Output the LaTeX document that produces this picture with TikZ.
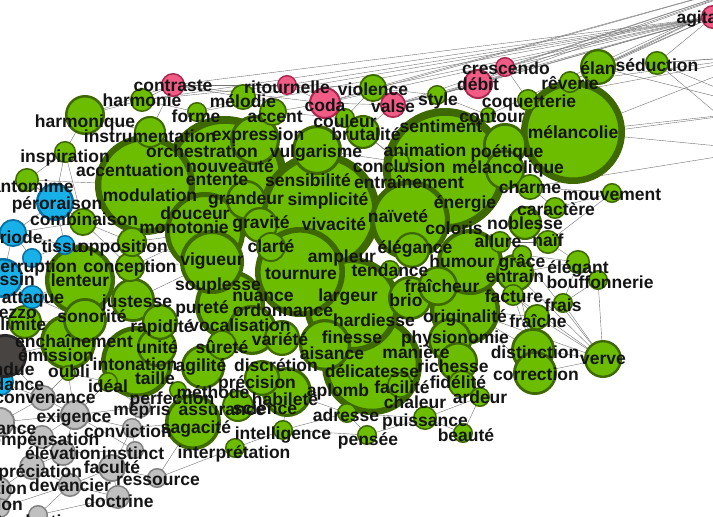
\documentclass[tikz,border=0pt]{standalone}
\usepackage{fontspec}
\setmainfont{Liberation Sans}
\definecolor{gf}{RGB}{108,188,0}
\definecolor{gb}{RGB}{62,104,0}
\definecolor{pf}{RGB}{240,92,134}
\definecolor{pb}{RGB}{170,40,80}
\definecolor{bf}{RGB}{24,176,232}
\definecolor{bb}{RGB}{10,110,160}
\definecolor{grf}{RGB}{192,192,192}
\definecolor{grb}{RGB}{130,130,130}
\definecolor{dkf}{RGB}{72,68,66}
\definecolor{dkb}{RGB}{40,40,40}
\pgfdeclarelayer{bg}
\pgfsetlayers{bg,main}
\newcommand\cnode[5]{\pgfmathsetmacro\cnlw{max(1.5,0.125*#4)}\pgfmathsetmacro\cnms{2*#4-\cnlw}\node[#5,minimum size=\cnms pt,line width=\cnlw pt] (#1) at (#2,#3) {};}
\newcommand\tlab[4]{\node[lbl] (t#1) at (#2,#3+5) {#4};}
\newcommand\ed[2]{\draw[edge] (#1) -- (#2);}
\begin{document}
\begin{tikzpicture}[x=1pt,y=-1pt,
 nd/.style={circle,inner sep=0pt,outer sep=0pt},
 G/.style={nd,fill=gf,draw=gb},
 P/.style={nd,fill=pf,draw=pb},
 B/.style={nd,fill=bf,draw=bb},
 Y/.style={nd,fill=grf,draw=grb},
 D/.style={nd,fill=dkf,draw=dkb},
 lbl/.style={font=\bfseries\fontsize{17.5}{17.5}\selectfont,inner sep=0pt,anchor=base,text=black!92},
 edge/.style={draw=black!55,line width=0.4pt}]
\useasboundingbox (0,0) rectangle (713,517);
\clip (0,0) rectangle (713,517);
% big green
\cnode{energie}{445}{170}{62}{G}
\cnode{orchestration}{225}{178}{62}{G}
\cnode{simplicite}{320}{212}{60}{G}
\cnode{melancolie}{573}{132}{52}{G}
\cnode{accentuation}{145}{185}{50}{G}
\cnode{delicatesse}{372}{365}{50}{G}
\cnode{largeur}{352}{305}{48}{G}
\cnode{tournure}{300}{272}{45}{G}
\cnode{douceur}{205}{232}{40}{G}
\cnode{naivete}{410}{220}{40}{G}
\cnode{intonation}{137}{362}{36}{G}
\cnode{lenteur}{80}{280}{35}{G}
\cnode{originalite}{465}{310}{35}{G}
\cnode{souplesse}{230}{305}{35}{G}
\cnode{humour}{470}{262}{33}{G}
\cnode{vigueur}{212}{262}{32}{G}
\cnode{enchainement}{68}{342}{28}{G}
\cnode{sagacite}{193}{422}{28}{G}
\cnode{aisance}{325}{345}{26}{G}
\cnode{habilete}{287}{392}{25}{G}
\cnode{vocalisation}{252}{330}{25}{G}
\cnode{vulgarisme}{317}{150}{25}{G}
\cnode{expression}{255}{140}{25}{G}
\cnode{brio}{410}{298}{22}{G}
\cnode{physionomie}{450}{340}{22}{G}
\cnode{richesse}{458}{362}{20}{G}
\cnode{fraicheur}{438}{286}{20}{G}
\cnode{poetique}{505}{145}{22}{G}
\cnode{melancolique}{505}{170}{20}{G}
\cnode{distinction}{533}{350}{22}{G}
\cnode{correction}{535}{373}{22}{G}
\cnode{agilite}{203}{367}{22}{G}
\cnode{justesse}{133}{300}{22}{G}
\cnode{sonorite}{85}{320}{22}{G}
\cnode{unite}{157}{347}{20}{G}
\cnode{grandeur}{246}{200}{20}{G}
\cnode{harmonique}{85}{115}{20}{G}
\cnode{verve}{603}{359}{19}{G}
\cnode{entrain}{515}{273}{19}{G}
\cnode{elegance}{412}{250}{18}{G}
\cnode{rapidite}{160}{322}{18}{G}
\cnode{variete}{282}{338}{18}{G}
\cnode{precision}{262}{378}{18}{G}
\cnode{gravite}{260}{225}{18}{G}
\cnode{elan}{598}{67}{18}{G}
\cnode{noblesse}{525}{223}{17}{G}
\cnode{brutalite}{363}{132}{17}{G}
\cnode{delimite}{25}{322}{17}{G}
\cnode{assurance}{238}{406}{16}{G}
\cnode{instrumentation}{150}{132}{16}{G}
\cnode{fidelite}{462}{384}{14}{G}
\cnode{surete}{222}{345}{15}{G}
\cnode{conception}{130}{267}{15}{G}
\cnode{opposition}{132}{242}{15}{G}
\cnode{clarte}{271}{247}{15}{G}
\cnode{accent}{273}{112}{14}{G}
\cnode{violence}{373}{88}{14}{G}
\cnode{combinaison}{83}{222}{14}{G}
\cnode{melodie}{243}{97}{13}{G}
\cnode{charme}{530}{187}{13}{G}
\cnode{fraiche}{537}{317}{13}{G}
\cnode{facilite}{400}{385}{13}{G}
\cnode{pantomime}{27}{180}{12}{G}
\cnode{puissance}{425}{418}{12}{G}
\cnode{naif}{548}{242}{12}{G}
\cnode{elegant}{578}{262}{12}{G}
\cnode{harmonie}{142}{100}{12}{G}
\cnode{seduction}{657}{63}{12}{G}
\cnode{inspiration}{65}{152}{11}{G}
\cnode{coquetterie}{528}{100}{11}{G}
\cnode{reverie}{570}{82}{11}{G}
\cnode{caractere}{555}{208}{11}{G}
\cnode{allure}{500}{242}{11}{G}
\cnode{facture}{513}{295}{11}{G}
\cnode{forme}{197}{112}{10}{G}
\cnode{couleur}{345}{118}{10}{G}
\cnode{style}{437}{95}{10}{G}
\cnode{mouvement}{612}{193}{10}{G}
\cnode{grace}{522}{255}{10}{G}
\cnode{bouffonnerie}{598}{280}{10}{G}
\cnode{frais}{563}{303}{10}{G}
\cnode{ardeur}{480}{397}{10}{G}
\cnode{beaute}{463}{433}{10}{G}
\cnode{pensee}{367}{435}{10}{G}
\cnode{adresse}{347}{413}{10}{G}
\cnode{intelligence}{283}{430}{10}{G}
\cnode{interpretation}{235}{448}{10}{G}
\cnode{ideal}{108}{382}{10}{G}
\cnode{methode}{178}{390}{9}{G}
\cnode{conclusion}{400}{162}{10}{G}
\cnode{tendance}{390}{270}{10}{G}
\cnode{oubli}{68}{373}{8}{G}
\cnode{contour}{488}{115}{8}{G}
% pink
\cnode{contraste}{173}{85}{12}{P}
\cnode{ritournelle}{287}{85}{10}{P}
\cnode{coda}{325}{103}{16}{P}
\cnode{valse}{393}{105}{13}{P}
\cnode{debit}{478}{84}{15}{P}
\cnode{crescendo}{505}{67}{10}{P}
\cnode{agitation}{713}{17}{12}{P}
% blue
\cnode{peroraison}{55}{202}{19}{B}
\cnode{periode}{13}{233}{14}{B}
\cnode{tissu}{65}{245}{10}{B}
\cnode{dessin}{3}{278}{20}{B}
\cnode{interruption}{32}{258}{10}{B}
\cnode{attaque}{32}{297}{12}{B}
\cnode{abondance}{0}{382}{14}{B}
% dark
\cnode{etendue}{5}{356}{22}{D}
% grey
\cnode{convenance}{43}{398}{13}{Y}
\cnode{exigence}{75}{415}{15}{Y}
\cnode{constance}{0}{422}{15}{Y}
\cnode{compensation}{42}{437}{12}{Y}
\cnode{elevation}{63}{453}{13}{Y}
\cnode{instinct}{135}{450}{9}{Y}
\cnode{appreciation}{32}{467}{13}{Y}
\cnode{faculte}{112}{468}{14}{Y}
\cnode{ressource}{157}{478}{10}{Y}
\cnode{devancier}{70}{485}{12}{Y}
\cnode{direction}{-2}{490}{14}{Y}
\cnode{doctrine}{118}{497}{12}{Y}
\cnode{etalon}{0}{508}{10}{Y}
\cnode{traduction}{38}{515}{10}{Y}
\cnode{mepris}{140}{407}{11}{Y}
\cnode{conviction}{132}{428}{10}{Y}
% off-canvas ends
\coordinate (ne1) at (800,-30);
\coordinate (ne2) at (770,55);
\coordinate (e1) at (770,110);
\coordinate (e2) at (760,150);
% edges
\begin{pgfonlayer}{bg}
\clip (0,0) rectangle (713,517);
\foreach \a in {contraste,harmonie,ritournelle,coda,violence,valse,debit,crescendo,style,melodie,elan,seduction,coquetterie,forme}{\ed{agitation}{\a}}
\foreach \a in {crescendo,debit,contour,style,reverie,elan,coda,valse,violence}{\ed{ne1}{\a}}
\foreach \a in {seduction,elan,reverie,melancolie,coquetterie}{\ed{ne2}{\a}}
\foreach \a in {seduction,melancolie,poetique,elan}{\ed{e1}{\a}}
\foreach \a in {melancolie,charme,seduction}{\ed{e2}{\a}}
\ed{harmonique}{harmonie}\ed{harmonique}{instrumentation}\ed{inspiration}{harmonique}
\ed{inspiration}{pantomime}\ed{inspiration}{peroraison}\ed{harmonie}{contraste}
\ed{contraste}{ritournelle}\ed{contraste}{melodie}\ed{harmonie}{forme}\ed{forme}{melodie}
\ed{contraste}{coda}\ed{ritournelle}{coda}\ed{ritournelle}{violence}\ed{coda}{violence}
\ed{coda}{valse}\ed{violence}{valse}\ed{violence}{style}\ed{valse}{style}\ed{valse}{debit}
\ed{style}{debit}\ed{debit}{crescendo}\ed{crescendo}{coquetterie}\ed{contour}{style}
\ed{couleur}{coda}\ed{couleur}{violence}\ed{brutalite}{valse}\ed{accent}{coda}\ed{accent}{couleur}
\ed{couleur}{conclusion}\ed{brutalite}{conclusion}\ed{couleur}{brutalite}\ed{vulgarisme}{conclusion}
\ed{harmonie}{ritournelle}\ed{harmonique}{contraste}\ed{instrumentation}{contraste}
\ed{pantomime}{peroraison}\ed{peroraison}{combinaison}\ed{pantomime}{combinaison}
\ed{periode}{combinaison}\ed{periode}{tissu}\ed{periode}{peroraison}\ed{tissu}{opposition}
\ed{tissu}{interruption}\ed{combinaison}{opposition}\ed{interruption}{lenteur}
\ed{dessin}{interruption}\ed{dessin}{attaque}\ed{attaque}{lenteur}\ed{attaque}{sonorite}
\ed{delimite}{sonorite}\ed{periode}{dessin}\ed{pantomime}{accentuation}\ed{peroraison}{tissu}
\ed{combinaison}{conception}\ed{opposition}{douceur}\ed{conception}{douceur}\ed{opposition}{vigueur}
\ed{conception}{vigueur}\ed{justesse}{vigueur}\ed{inspiration}{combinaison}\ed{periode}{interruption}
\ed{enchainement}{etendue}\ed{oubli}{exigence}\ed{oubli}{convenance}\ed{ideal}{exigence}
\ed{ideal}{mepris}\ed{etendue}{convenance}\ed{abondance}{convenance}\ed{convenance}{exigence}
\ed{convenance}{constance}\ed{constance}{compensation}\ed{compensation}{exigence}
\ed{compensation}{elevation}\ed{elevation}{appreciation}\ed{elevation}{instinct}
\ed{elevation}{devancier}\ed{instinct}{faculte}\ed{instinct}{conviction}\ed{faculte}{devancier}
\ed{faculte}{ressource}\ed{faculte}{doctrine}\ed{devancier}{appreciation}\ed{devancier}{doctrine}
\ed{direction}{appreciation}\ed{etalon}{devancier}\ed{traduction}{devancier}\ed{traduction}{doctrine}
\ed{exigence}{mepris}\ed{mepris}{conviction}\ed{conviction}{faculte}\ed{conviction}{sagacite}
\ed{ressource}{interpretation}\ed{exigence}{instinct}\ed{exigence}{elevation}\ed{ideal}{intonation}
\ed{constance}{exigence}\ed{oubli}{ideal}\ed{exigence}{conviction}\ed{ressource}{sagacite}
\ed{interpretation}{intelligence}\ed{intelligence}{adresse}\ed{intelligence}{pensee}
\ed{pensee}{puissance}\ed{adresse}{puissance}\ed{puissance}{beaute}\ed{beaute}{ardeur}
\ed{pensee}{adresse}\ed{puissance}{ardeur}\ed{habilete}{adresse}\ed{habilete}{intelligence}
\ed{verve}{distinction}\ed{verve}{correction}\ed{verve}{fraiche}\ed{verve}{frais}
\ed{verve}{bouffonnerie}\ed{verve}{facture}\ed{verve}{entrain}\ed{verve}{originalite}
\ed{verve}{grace}\ed{distinction}{fraiche}\ed{frais}{bouffonnerie}\ed{frais}{fraiche}
\ed{bouffonnerie}{elegant}\ed{elegant}{entrain}\ed{elegant}{naif}\ed{naif}{noblesse}
\ed{caractere}{mouvement}\ed{mouvement}{charme}\ed{caractere}{charme}\ed{allure}{naif}
\ed{grace}{elegant}\ed{facture}{frais}\ed{fraiche}{facture}\ed{fraiche}{originalite}
\ed{distinction}{originalite}\ed{correction}{originalite}\ed{mouvement}{naif}\ed{elegant}{frais}
\ed{facture}{distinction}\ed{entrain}{distinction}
\end{pgfonlayer}
% labels
\tlab{agitation}{713}{18}{agitation}
\tlab{crescendo}{506}{69}{crescendo}
\tlab{debit}{478}{85}{débit}
\tlab{elan}{598}{69}{élan}
\tlab{seduction}{657}{66}{séduction}
\tlab{reverie}{570}{84}{rêverie}
\tlab{coquetterie}{529}{102}{coquetterie}
\tlab{contour}{492}{117}{contour}
\tlab{melancolie}{573}{133}{mélancolie}
\tlab{poetique}{507}{152}{poétique}
\tlab{melancolique}{508}{168}{mélancolique}
\tlab{style}{438}{100}{style}
\tlab{valse}{393}{107}{valse}
\tlab{violence}{373}{90}{violence}
\tlab{coda}{325}{106}{coda}
\tlab{ritournelle}{287}{88}{ritournelle}
\tlab{contraste}{173}{86}{contraste}
\tlab{harmonie}{142}{101}{harmonie}
\tlab{harmonique}{85}{122}{harmonique}
\tlab{forme}{196}{117}{forme}
\tlab{melodie}{243}{102}{mélodie}
\tlab{accent}{275}{117}{accent}
\tlab{couleur}{345}{122}{couleur}
\tlab{expression}{258}{135}{expression}
\tlab{instrumentation}{150}{137}{instrumentation}
\tlab{inspiration}{65}{157}{inspiration}
\tlab{orchestration}{202}{152}{orchestration}
\tlab{brutalite}{366}{135}{brutalité}
\tlab{vulgarisme}{316}{152}{vulgarisme}
\tlab{sentiment}{441}{127}{sentiment}
\tlab{animation}{425}{151}{animation}
\tlab{conclusion}{399}{167}{conclusion}
\tlab{entrainement}{409}{183}{entraînement}
\tlab{sensibilite}{308}{181}{sensibilité}
\tlab{simplicite}{328}{200}{simplicité}
\tlab{vivacite}{334}{225}{vivacité}
\tlab{naivete}{398}{217}{naïveté}
\tlab{energie}{465}{203}{énergie}
\tlab{coloris}{454}{229}{coloris}
\tlab{elegance}{415}{248}{élégance}
\tlab{ampleur}{342}{257}{ampleur}
\tlab{tendance}{390}{271}{tendance}
\tlab{tournure}{301}{274}{tournure}
\tlab{clarte}{271}{247}{clarté}
\tlab{gravite}{261}{223}{gravité}
\tlab{grandeur}{246}{199}{grandeur}
\tlab{nouveaute}{230}{167}{nouveauté}
\tlab{entente}{217}{180}{entente}
\tlab{accentuation}{130}{171}{accentuation}
\tlab{modulation}{150}{196}{modulation}
\tlab{douceur}{195}{214}{douceur}
\tlab{monotonie}{184}{228}{monotonie}
\tlab{vigueur}{212}{260}{vigueur}
\tlab{souplesse}{218}{285}{souplesse}
\tlab{nuance}{263}{296}{nuance}
\tlab{ordonnance}{283}{311}{ordonnance}
\tlab{purete}{202}{308}{pureté}
\tlab{justesse}{137}{302}{justesse}
\tlab{sonorite}{92}{317}{sonorité}
\tlab{lenteur}{80}{281}{lenteur}
\tlab{conception}{130}{267}{conception}
\tlab{opposition}{123}{247}{opposition}
\tlab{tissu}{62}{247}{tissu}
\tlab{combinaison}{84}{220}{combinaison}
\tlab{peroraison}{57}{204}{péroraison}
\tlab{pantomime}{27}{187}{pantomime}
\tlab{periode}{11}{238}{période}
\tlab{interruption}{28}{267}{interruption}
\tlab{dessin}{7}{280}{dessin}
\tlab{attaque}{33}{298}{attaque}
\tlab{intermezzo}{-9}{313}{intermezzo}
\tlab{delimite}{13}{325}{délimite}
\tlab{enchainement}{74}{342}{enchaînement}
\tlab{emission}{56}{356}{émission}
\tlab{oubli}{69}{372}{oubli}
\tlab{etendue}{1}{370}{étendue}
\tlab{abondance}{-2}{385}{abondance}
\tlab{convenance}{45}{398}{convenance}
\tlab{exigence}{74}{417}{exigence}
\tlab{constance}{-7}{429}{constance}
\tlab{compensation}{40}{440}{compensation}
\tlab{elevation}{63}{454}{élévation}
\tlab{instinct}{133}{454}{instinct}
\tlab{appreciation}{30}{472}{appréciation}
\tlab{faculte}{112}{468}{faculté}
\tlab{ressource}{158}{480}{ressource}
\tlab{devancier}{70}{486}{devancier}
\tlab{direction}{-10}{489}{direction}
\tlab{doctrine}{119}{502}{doctrine}
\tlab{etalon}{-3}{505}{étalon}
\tlab{traduction}{40}{522}{traduction}
\tlab{mepris}{142}{410}{mépris}
\tlab{conviction}{128}{432}{conviction}
\tlab{ideal}{108}{387}{idéal}
\tlab{intonation}{135}{365}{intonation}
\tlab{unite}{157}{348}{unité}
\tlab{taille}{155}{379}{taille}
\tlab{perfection}{172}{399}{perfection}
\tlab{methode}{213}{393}{méthode}
\tlab{rapidite}{162}{327}{rapidité}
\tlab{vocalisation}{240}{326}{vocalisation}
\tlab{surete}{222}{348}{sûreté}
\tlab{agilite}{201}{366}{agilité}
\tlab{discretion}{276}{366}{discrétion}
\tlab{variete}{280}{340}{variété}
\tlab{precision}{257}{383}{précision}
\tlab{habilete}{285}{400}{habileté}
\tlab{assurance}{222}{410}{assurance}
\tlab{science}{265}{409}{science}
\tlab{sagacite}{196}{428}{sagacité}
\tlab{interpretation}{234}{453}{interprétation}
\tlab{intelligence}{283}{434}{intelligence}
\tlab{pensee}{368}{440}{pensée}
\tlab{adresse}{346}{416}{adresse}
\tlab{puissance}{425}{421}{puissance}
\tlab{beaute}{466}{436}{beauté}
\tlab{chaleur}{415}{403}{chaleur}
\tlab{facilite}{402}{388}{facilité}
\tlab{aplomb}{338}{391}{aplomb}
\tlab{delicatesse}{372}{372}{délicatesse}
\tlab{aisance}{332}{354}{aisance}
\tlab{maniere}{416}{353}{manière}
\tlab{richesse}{453}{367}{richesse}
\tlab{fidelite}{458}{383}{fidélité}
\tlab{ardeur}{480}{398}{ardeur}
\tlab{distinction}{535}{353}{distinction}
\tlab{correction}{536}{375}{correction}
\tlab{verve}{603}{359}{verve}
\tlab{physionomie}{455}{338}{physionomie}
\tlab{originalite}{465}{317}{originalité}
\tlab{finesse}{352}{338}{finesse}
\tlab{hardiesse}{374}{321}{hardiesse}
\tlab{brio}{406}{301}{brio}
\tlab{largeur}{348}{296}{largeur}
\tlab{fraicheur}{442}{287}{fraîcheur}
\tlab{humour}{462}{262}{humour}
\tlab{noblesse}{525}{224}{noblesse}
\tlab{charme}{530}{188}{charme}
\tlab{mouvement}{612}{195}{mouvement}
\tlab{caractere}{556}{210}{caractère}
\tlab{allure}{498}{242}{allure}
\tlab{naif}{548}{241}{naïf}
\tlab{grace}{522}{262}{grâce}
\tlab{entrain}{515}{277}{entrain}
\tlab{elegant}{578}{268}{élégant}
\tlab{bouffonnerie}{600}{283}{bouffonnerie}
\tlab{facture}{514}{297}{facture}
\tlab{frais}{563}{306}{frais}
\tlab{fraiche}{538}{322}{fraîche}
\end{tikzpicture}
\end{document}
